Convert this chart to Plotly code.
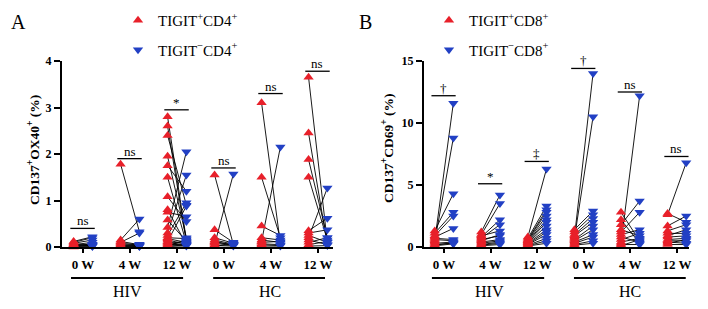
import plotly.graph_objects as go

# ---------------- data ----------------
categories = ["0 W", "4 W", "12 W", "0 W", "4 W", "12 W"]
group_labels = ["HIV", "HC"]

# Panel A: CD137+OX40+ (%) in CD4+ T cells (paired TIGIT+ / TIGIT-)
cd4_hiv_0w_pos = [0.12, 0.10, 0.08, 0.06, 0.05, 0.04, 0.03, 0.02, 0.01, 0.00]
cd4_hiv_0w_neg = [0.22, 0.20, 0.15, 0.05, 0.10, 0.03, 0.06, 0.02, 0.04, 0.01]
cd4_hiv_4w_pos = [1.78, 0.15, 0.12, 0.10, 0.08, 0.06, 0.04, 0.03, 0.02, 0.01]
cd4_hiv_4w_neg = [0.33, 0.60, 0.05, 0.30, 0.04, 0.06, 0.03, 0.02, 0.01, 0.02]
cd4_hiv_12w_pos = [2.80, 2.60, 2.40, 1.95, 1.75, 1.50, 1.08, 0.80, 0.75, 0.58, 0.42, 0.30,
                   0.25, 0.20, 0.18, 0.15, 0.12, 0.10, 0.08, 0.06, 0.04, 0.03, 0.02, 0.01]
cd4_hiv_12w_neg = [0.15, 0.10, 0.90, 0.20, 1.20, 0.08, 0.55, 0.05, 0.65, 0.12, 2.05, 1.55,
                   0.95, 0.18, 0.10, 0.06, 0.88, 0.04, 0.12, 0.03, 0.07, 0.15, 0.02, 0.05]
cd4_hc_0w_pos = [1.55, 0.37, 0.20, 0.15, 0.12, 0.10, 0.08, 0.05, 0.03, 0.02]
cd4_hc_0w_neg = [0.05, 0.10, 0.08, 0.06, 0.04, 0.05, 0.03, 1.57, 0.02, 0.06]
cd4_hc_4w_pos = [3.10, 1.50, 0.45, 0.20, 0.15, 0.12, 0.10, 0.07, 0.05, 0.02]
cd4_hc_4w_neg = [0.08, 0.20, 0.25, 0.15, 0.10, 2.15, 0.12, 0.05, 0.03, 0.02]
cd4_hc_12w_pos = [3.65, 2.45, 1.88, 1.50, 0.35, 0.30, 0.25, 0.20, 0.15, 0.10, 0.05, 0.02]
cd4_hc_12w_neg = [0.10, 0.05, 0.20, 0.15, 0.62, 0.37, 0.10, 1.27, 0.05, 0.20, 0.12, 0.03]

# Panel B: CD137+CD69+ (%) in CD8+ T cells
cd8_hiv_0w_pos = [0.50, 0.40, 1.30, 1.10, 0.90, 0.80, 0.70, 0.60, 0.30, 0.20, 0.15, 0.10]
cd8_hiv_0w_neg = [11.6, 8.8, 4.3, 2.8, 2.5, 1.5, 0.6, 0.5, 0.4, 0.3, 0.35, 0.25]
cd8_hiv_4w_pos = [1.20, 1.00, 0.90, 0.80, 0.70, 0.60, 0.50, 0.40, 0.30, 0.20, 0.15, 0.10]
cd8_hiv_4w_neg = [4.2, 3.5, 1.3, 2.2, 1.8, 0.9, 1.0, 0.6, 0.5, 0.4, 0.3, 0.2]
cd8_hiv_12w_pos = [0.80, 0.70, 0.60, 0.55, 0.50, 0.45, 0.40, 0.35, 0.30, 0.25, 0.20, 0.15, 0.10, 0.08]
cd8_hiv_12w_neg = [6.3, 3.3, 3.0, 2.8, 2.5, 2.2, 2.0, 1.7, 1.4, 1.2, 1.0, 0.7, 0.5, 0.3]
cd8_hc_0w_pos = [0.80, 0.70, 1.40, 1.20, 1.00, 0.90, 0.60, 0.50, 0.40, 0.30, 0.20, 0.15]
cd8_hc_0w_neg = [14.0, 10.5, 2.9, 2.6, 2.3, 2.0, 1.7, 1.4, 1.0, 0.8, 0.5, 0.3]
cd8_hc_4w_pos = [2.80, 2.20, 1.80, 1.40, 1.20, 1.00, 0.30, 0.60, 0.40, 0.80, 0.20, 0.10]
cd8_hc_4w_neg = [0.50, 0.30, 3.70, 0.90, 2.80, 1.40, 12.2, 1.10, 0.70, 0.40, 0.20, 0.60]
cd8_hc_12w_pos = [2.70, 2.60, 1.70, 1.30, 1.10, 0.90, 0.80, 0.60, 0.50, 0.40, 0.30, 0.20]
cd8_hc_12w_neg = [2.00, 6.80, 2.50, 1.80, 1.10, 1.40, 0.90, 0.70, 0.50, 0.30, 0.60, 0.20]

sig_a_labels = ["ns", "ns", "*", "ns", "ns", "ns"]
sig_a_heights = [0.40, 1.90, 2.95, 1.70, 3.30, 3.78]
sig_b_labels = ["†", "*", "‡", "†", "ns", "ns"]
sig_b_heights = [12.2, 5.1, 6.9, 14.4, 12.5, 7.3]

# --------------- styling ---------------
RED = "#e8202a"
BLUE = "#2240c4"
SERIF = "Liberation Serif, Times New Roman, serif"
W, H = 708, 309

panel_a_pos = [cd4_hiv_0w_pos, cd4_hiv_4w_pos, cd4_hiv_12w_pos, cd4_hc_0w_pos, cd4_hc_4w_pos, cd4_hc_12w_pos]
panel_a_neg = [cd4_hiv_0w_neg, cd4_hiv_4w_neg, cd4_hiv_12w_neg, cd4_hc_0w_neg, cd4_hc_4w_neg, cd4_hc_12w_neg]
panel_b_pos = [cd8_hiv_0w_pos, cd8_hiv_4w_pos, cd8_hiv_12w_pos, cd8_hc_0w_pos, cd8_hc_4w_pos, cd8_hc_12w_pos]
panel_b_neg = [cd8_hiv_0w_neg, cd8_hiv_4w_neg, cd8_hiv_12w_neg, cd8_hc_0w_neg, cd8_hc_4w_neg, cd8_hc_12w_neg]

OFF = 0.2
fig = go.Figure()


def add_panel(pos_lists, neg_lists, xa, ya, legend_id, cell):
    lx, ly = [], []
    rx, ry, bx, by = [], [], [], []
    for i, (p, n) in enumerate(zip(pos_lists, neg_lists)):
        for a, b in zip(p, n):
            lx += [i - OFF, i + OFF, None]
            ly += [a, b, None]
            rx.append(i - OFF)
            ry.append(a)
            bx.append(i + OFF)
            by.append(b)
    fig.add_trace(go.Scatter(x=lx, y=ly, mode="lines", line=dict(color="black", width=0.9),
                             xaxis=xa, yaxis=ya, showlegend=False, cliponaxis=False, hoverinfo="skip"))
    fig.add_trace(go.Scatter(x=rx, y=ry, mode="markers",
                             marker=dict(symbol="triangle-up", size=9, color=RED),
                             name=f"TIGIT<sup>+</sup>{cell}<sup>+</sup>", legend=legend_id, legendgroup=legend_id + "p",
                             xaxis=xa, yaxis=ya, cliponaxis=False))
    fig.add_trace(go.Scatter(x=bx, y=by, mode="markers",
                             marker=dict(symbol="triangle-down", size=9, color=BLUE),
                             name=f"TIGIT<sup>−</sup>{cell}<sup>+</sup>", legend=legend_id, legendgroup=legend_id + "n",
                             xaxis=xa, yaxis=ya, cliponaxis=False))


add_panel(panel_a_pos, panel_a_neg, "x", "y", "legend", "CD4")
add_panel(panel_b_pos, panel_b_neg, "x2", "y2", "legend2", "CD8")

ydom = [(H - 247) / H, (H - 61) / H]
xcommon = dict(tickvals=list(range(6)), ticktext=categories, showline=True, linewidth=2, linecolor="black",
               ticks="outside", ticklen=4, tickwidth=1.5, tickcolor="black", showgrid=False, zeroline=False,
               automargin=False,
               tickfont=dict(family=SERIF, size=13, color="black", weight="bold"))
ycommon = dict(showline=True, linewidth=2, linecolor="black", ticks="outside", ticklen=6, tickwidth=2,
               tickcolor="black", showgrid=False, zeroline=False, automargin=False,
               tickfont=dict(family=SERIF, size=12, color="black", weight="bold"))

fig.update_layout(
    width=W, height=H, margin=dict(l=0, r=0, t=0, b=0, autoexpand=False),
    paper_bgcolor="white", plot_bgcolor="white",
    xaxis=dict(domain=[62 / W, 333 / W], range=[-0.447, 5.32], anchor="y", **xcommon),
    yaxis=dict(domain=ydom, range=[0, 4], tickvals=[0, 1, 2, 3, 4], anchor="x", **ycommon),
    xaxis2=dict(domain=[424 / W, 689 / W], range=[-0.43, 5.26], anchor="y2", **xcommon),
    yaxis2=dict(domain=ydom, range=[0, 15], tickvals=[0, 5, 10, 15], anchor="x2", **ycommon),
    legend=dict(x=118 / W, y=1 - 4 / H, xanchor="left", yanchor="top", bgcolor="rgba(0,0,0,0)",
                font=dict(family=SERIF, size=15, color="black"), traceorder="grouped", tracegroupgap=7),
    legend2=dict(x=429 / W, y=1 - 4 / H, xanchor="left", yanchor="top", bgcolor="rgba(0,0,0,0)",
                 font=dict(family=SERIF, size=15, color="black"), traceorder="grouped", tracegroupgap=7),
    showlegend=True,
)

shapes = []
annotations = []


def sig_marks(labels, heights, xref, yref):
    for i, (lab, h) in enumerate(zip(labels, heights)):
        shapes.append(dict(type="line", xref=xref, yref=yref, x0=i - 0.27, x1=i + 0.25, y0=h, y1=h,
                           line=dict(color="black", width=1.3)))
        annotations.append(dict(x=i - 0.01, y=h, xref=xref, yref=yref, text=lab, showarrow=False,
                                xanchor="center", yanchor="bottom", yshift=-2,
                                font=dict(family=SERIF, size=13, color="black")))


sig_marks(sig_a_labels, sig_a_heights, "x", "y")
sig_marks(sig_b_labels, sig_b_heights, "x2", "y2")

group_y = (H - 278) / H
label_y = (H - 291) / H
for xref, spans, centers in [("x", [(-0.255, 2.13), (2.77, 5.15)], [0.95, 3.97]),
                             ("x2", [(-0.26, 2.15), (2.79, 5.19)], [0.97, 4.0])]:
    for (a, b), c, g in zip(spans, centers, group_labels):
        shapes.append(dict(type="line", xref=xref, yref="paper", x0=a, x1=b, y0=group_y, y1=group_y,
                           line=dict(color="black", width=2)))
        annotations.append(dict(x=c, y=label_y, xref=xref, yref="paper", text=g, showarrow=False,
                                xanchor="center", yanchor="middle",
                                font=dict(family=SERIF, size=16, color="black")))

# y-axis titles
annotations.append(dict(x=33 / W, y=(H - 150) / H, xref="paper", yref="paper", textangle=-90,
                        xanchor="center", yanchor="middle",
                        text="CD137<sup>+</sup>OX40<sup>+</sup> (%)", showarrow=False,
                        font=dict(family=SERIF, size=13.5, color="black", weight="bold")))
annotations.append(dict(x=387 / W, y=(H - 149) / H, xref="paper", yref="paper", textangle=-90,
                        xanchor="center", yanchor="middle",
                        text="CD137<sup>+</sup>CD69<sup>+</sup> (%)", showarrow=False,
                        font=dict(family=SERIF, size=13.5, color="black", weight="bold")))
# panel letters
annotations.append(dict(x=18 / W, y=(H - 22) / H, xref="paper", yref="paper", text="A", showarrow=False,
                        xanchor="center", yanchor="middle",
                        font=dict(family=SERIF, size=20, color="black")))
annotations.append(dict(x=366 / W, y=(H - 22) / H, xref="paper", yref="paper", text="B", showarrow=False,
                        xanchor="center", yanchor="middle",
                        font=dict(family=SERIF, size=20, color="black")))

fig.update_layout(shapes=shapes, annotations=annotations)
fig.write_html("out.html", config={"displayModeBar": False},
               post_script="document.body.style.margin='0';document.body.style.padding='0';")
